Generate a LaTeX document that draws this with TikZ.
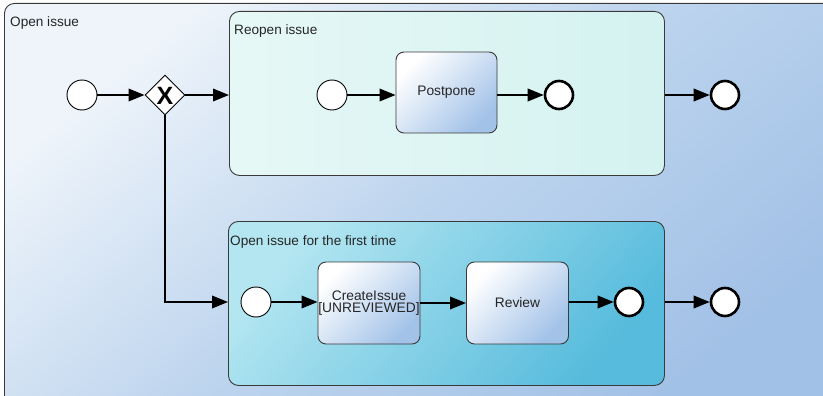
\documentclass[tikz,border=0pt]{standalone}
\usepackage{fontspec}
\setmainfont{Liberation Sans}
\usetikzlibrary{shapes.geometric,arrows.meta}

\definecolor{poolhi}{HTML}{EEF4FA}
\definecolor{poolmid}{HTML}{BDD4EE}
\definecolor{poollo}{HTML}{A2C1E6}
\definecolor{mintA}{HTML}{E6F8F6}
\definecolor{mintB}{HTML}{D4F2F0}
\definecolor{cyanA}{HTML}{B4E6F1}
\definecolor{cyanB}{HTML}{56BBDC}
\definecolor{taskhi}{HTML}{FFFFFF}
\definecolor{tasklo}{HTML}{A2C2E8}
\definecolor{edge}{HTML}{3A3A3A}
\definecolor{ink}{HTML}{262626}

\tikzset{
  lbl/.style={font=\fontsize{13.6}{15}\selectfont, text=ink, inner sep=0pt, anchor=north west},
  container/.style={draw=edge, line width=0.9pt, rounded corners=10pt, inner sep=0pt},
  task/.style={draw=edge, line width=0.9pt, rounded corners=8pt,
    top color=taskhi, bottom color=tasklo, shading angle=45,
    minimum width=102pt, minimum height=82pt, inner sep=0pt, align=center,
    font=\fontsize{13.8}{12.5}\selectfont, text=ink},
  startev/.style={circle, draw=black, line width=0.9pt, fill=white, minimum size=30pt, inner sep=0pt},
  endev/.style={circle, draw=black, line width=2.6pt, fill=white, minimum size=28pt, inner sep=0pt},
  gateway/.style={diamond, draw=black, line width=0.9pt, fill=white, minimum width=40pt, minimum height=40pt, inner sep=0pt},
  flow/.style={draw=black, line width=2pt, -{Triangle[length=16pt,width=12.5pt]}},
}

\begin{document}
\begin{tikzpicture}[x=1pt,y=-1pt]
  \useasboundingbox (0,0) rectangle (823,396);

  % outer sub-process, running past the right and bottom edges
  \begin{scope}
    \clip (0,0) rectangle (823,396);
    \node[container, top color=poolhi, bottom color=poollo, middle color=poolmid, shading angle=40,
      minimum width=840pt, minimum height=402pt, anchor=north west] (pool) at (4,3) {};
  \end{scope}
  \node[lbl] (pooltxt) at (10,16) {Open issue};

  % inner containers
  \node[container, left color=mintA, right color=mintB,
    minimum width=435pt, minimum height=164pt, anchor=north west] (reopen) at (229,11) {};
  \node[lbl] (reopentxt) at (234,24.5) {Reopen issue};

  \node[container, top color=cyanA, bottom color=cyanB, shading angle=50,
    minimum width=436pt, minimum height=164pt, anchor=north west] (first) at (228,221) {};
  \node[lbl] (firsttxt) at (230,235) {Open issue for the first time};

  % outer flow
  \node[startev] (s0) at (82,95) {};
  \node[gateway] (gw) at (165,95) {};
  \node[font=\fontsize{25}{25}\selectfont\bfseries, inner sep=0pt] (gwx) at (165,95.5) {X};
  \node[endev] (e1) at (725,95) {};
  \node[endev] (e2) at (725,302) {};

  % reopen flow
  \node[startev] (s1) at (332,95) {};
  \node[task, minimum width=101pt, minimum height=81pt] (post) at (446.5,92.5) {Postpone};
  \node[endev] (e3) at (559,95) {};

  % first-time flow
  \node[startev] (s2) at (256,302) {};
  \node[task] (create) at (369,303) {CreateIssue\\{}[UNREVIEWED]};
  \node[task] (review) at (517.5,303) {Review};
  \node[endev] (e4) at (629,302) {};

  % connectors
  \draw[flow] (s0) -- (gw);
  \draw[flow] (gw.east) -- (gw.east -| reopen.west);
  \draw[flow] (gw.south) |- (s2 -| first.west);
  \draw[flow] (e1 -| reopen.east) -- (e1);
  \draw[flow] (e2 -| first.east) -- (e2);

  \draw[flow] (s1) -- (s1 -| post.west);
  \draw[flow] (e3 -| post.east) -- (e3);

  \draw[flow] (s2) -- (s2 -| create.west);
  \draw[flow] (create) -- (review);
  \draw[flow] (e4 -| review.east) -- (e4);
\end{tikzpicture}
\end{document}
